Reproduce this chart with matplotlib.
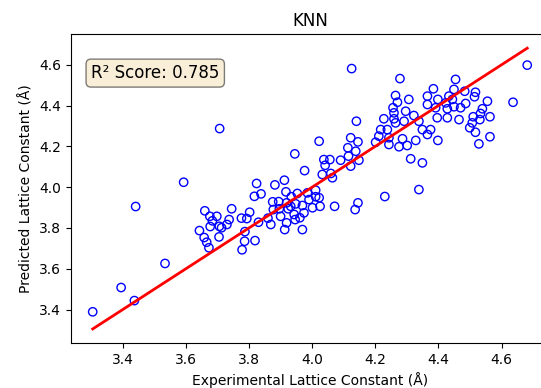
import matplotlib
matplotlib.use("Agg")
import matplotlib.pyplot as plt
import numpy as np

# Experimental (true) vs predicted lattice constants
y_test = [3.305, 3.395, 3.437, 3.441, 3.534, 3.593, 3.660, 3.676, 3.698, 3.684,
          3.677, 3.706, 3.643, 3.658, 3.666, 3.673, 3.705, 3.745, 3.737, 3.730,
          3.713, 3.824, 3.817, 3.838, 3.882, 3.912, 3.917, 3.776, 3.793, 3.802,
          3.787, 3.786, 3.819, 3.778, 3.830, 3.860, 3.877, 3.869, 3.896, 3.900,
          3.919, 3.913, 3.924, 3.894, 3.934, 3.953, 3.985, 4.011, 4.011, 3.990,
          4.022, 4.025, 3.969, 3.948, 3.932, 4.001, 3.974, 3.943, 3.969, 3.961,
          3.946, 3.945, 3.976, 4.022, 4.140, 4.122, 4.145, 4.113, 4.138, 4.148,
          4.122, 4.115, 4.090, 4.056, 4.037, 4.041, 4.032, 4.059, 4.064, 4.071,
          4.145, 4.136, 3.707, 4.125, 4.278, 4.264, 4.270, 4.306, 4.384, 4.365,
          4.398, 4.365, 4.391, 4.423, 4.433, 4.256, 4.296, 4.259, 4.227, 4.259,
          4.264, 4.291, 4.322, 4.338, 4.349, 4.375, 4.396, 4.217, 4.238, 4.211,
          4.243, 4.201, 4.243, 4.275, 4.301, 4.328, 4.286, 4.365, 4.398, 4.312,
          4.349, 4.338, 4.230, 4.681, 4.454, 4.449, 4.483, 4.517, 4.514, 4.555,
          4.636, 4.444, 4.449, 4.486, 4.470, 4.428, 4.428, 4.465, 4.539, 4.533,
          4.510, 4.563, 4.531, 4.507, 4.499, 4.517, 4.563, 4.528, 3.875, 3.919]

y_pred = [3.389, 3.508, 3.444, 3.905, 3.626, 4.024, 3.884, 3.857, 3.857, 3.835,
          3.807, 3.808, 3.787, 3.753, 3.730, 3.703, 3.756, 3.894, 3.841, 3.817,
          3.801, 4.018, 3.955, 3.967, 4.011, 4.034, 3.977, 3.848, 3.846, 3.877,
          3.782, 3.735, 3.738, 3.693, 3.828, 3.848, 3.890, 3.817, 3.894, 3.857,
          3.825, 3.792, 3.894, 3.929, 3.953, 3.969, 3.972, 3.985, 3.953, 3.939,
          3.948, 3.906, 3.910, 3.918, 3.906, 3.899, 3.874, 3.866, 3.792, 3.850,
          3.841, 4.163, 4.081, 4.225, 4.323, 4.242, 4.222, 4.193, 4.176, 4.132,
          4.103, 4.152, 4.132, 4.135, 4.135, 4.107, 4.062, 4.067, 4.046, 3.906,
          3.923, 3.890, 4.287, 4.581, 4.532, 4.449, 4.416, 4.430, 4.482, 4.446,
          4.430, 4.405, 4.389, 4.413, 4.446, 4.389, 4.372, 4.364, 4.335, 4.335,
          4.315, 4.323, 4.351, 4.323, 4.282, 4.282, 4.340, 4.282, 4.282, 4.250,
          4.242, 4.220, 4.209, 4.198, 4.204, 4.229, 4.237, 4.258, 4.229, 4.139,
          4.119, 3.988, 3.954, 4.598, 4.528, 4.479, 4.470, 4.465, 4.443, 4.421,
          4.416, 4.430, 4.394, 4.410, 4.389, 4.384, 4.340, 4.331, 4.384, 4.361,
          4.345, 4.345, 4.331, 4.315, 4.291, 4.269, 4.247, 4.212, 3.928, 3.923]

r2 = 0.785

fig = plt.figure(figsize=(5.41, 3.88), dpi=100)
ax = fig.add_axes([0.1312, 0.116, 0.8835, 0.796])

ax.scatter(y_test, y_pred, facecolors='none', edgecolors='b')
lo, hi = min(y_test), max(y_test)
ax.plot([lo, hi], [lo, hi], 'r', lw=2)

ax.text(0.042, 0.903, f'R\u00b2 Score: {r2:.3f}', transform=ax.transAxes,
        fontsize=12, va='top',
        bbox=dict(boxstyle='round', facecolor='wheat', alpha=0.5))

ax.set_title('KNN')
ax.set_xlabel('Experimental Lattice Constant (\u00c5)')
ax.set_ylabel('Predicted Lattice Constant (\u00c5)')

fig.savefig('out.png', dpi=100)
